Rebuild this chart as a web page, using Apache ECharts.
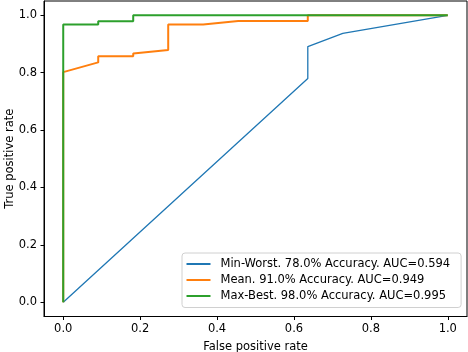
<!DOCTYPE html>
<html lang="en">

<head>
    <meta charset="UTF-8">
    <title>ROC</title>
    <style>
        html, body {
            margin: 0;
            padding: 0;
            background: #fff;
        }
        .box {
            width: 468px;
            height: 352px;
        }
    </style>
</head>

<body>
    <div class="box"></div>

    <script src="https://cdn.jsdelivr.net/npm/echarts@6/dist/echarts.min.js"></script>
    <script>
        let myChart = echarts.init(document.querySelector(".box"));

        // tick positions on both axes
        let tickValues = [0, 0.2, 0.4, 0.6, 0.8, 1.0];

        // legend names
        let seriesNames = [
            "Min-Worst. 78.0% Accuracy. AUC=0.594",
            "Mean. 91.0% Accuracy. AUC=0.949",
            "Max-Best. 98.0% Accuracy. AUC=0.995"
        ];

        // ROC curves: false positive rate / true positive rate
        let worstFpr = [0, 0.636, 0.636, 0.727, 1.0];
        let worstTpr = [0, 0.780, 0.891, 0.937, 1.0];

        let meanFpr = [0, 0, 0.091, 0.091, 0.182, 0.182, 0.273, 0.273, 0.364, 0.455, 0.636, 0.636, 1.0];
        let meanTpr = [0, 0.802, 0.836, 0.857, 0.857, 0.867, 0.879, 0.968, 0.968, 0.980, 0.980, 1.0, 1.0];

        let bestFpr = [0, 0, 0.091, 0.091, 0.182, 0.182, 1.0];
        let bestTpr = [0, 0.968, 0.968, 0.979, 0.979, 1.0, 1.0];

        function pairs(xs, ys) {
            return xs.map((x, i) => [x, ys[i]]);
        }

        let font = "DejaVu Sans";
        let fontSize = 11.5;

        function axis(name, gap) {
            return {
                type: "value",
                min: -0.05,
                max: 1.05,
                name: name,
                nameLocation: "middle",
                nameGap: gap,
                nameMoveOverlap: false,
                nameTextStyle: { fontFamily: font, fontSize: fontSize, color: "#000" },
                axisLine: { show: true, onZero: false, lineStyle: { color: "#000", width: 1 } },
                axisTick: { show: true, length: 3.5, customValues: tickValues, lineStyle: { color: "#000" } },
                axisLabel: {
                    customValues: tickValues,
                    margin: 7,
                    fontFamily: font,
                    fontSize: fontSize,
                    color: "#000",
                    formatter: v => v.toFixed(1)
                },
                splitLine: { show: false }
            };
        }

        let colors = ["#1f77b4", "#ff7f0e", "#2ca02c"];
        let widths = [1.3, 2, 2];
        let curves = [pairs(worstFpr, worstTpr), pairs(meanFpr, meanTpr), pairs(bestFpr, bestTpr)];

        option = {
            animation: false,
            color: colors,
            grid: {
                left: 44,
                right: 1,
                top: 1,
                bottom: 35.5,
                outerBoundsMode: "none",
                containLabel: false,
                show: true,
                borderColor: "#000",
                borderWidth: 1
            },
            xAxis: axis("False positive rate", 24.5),
            yAxis: axis("True positive rate", 27.5),
            legend: {
                orient: "vertical",
                left: 182,
                top: 253,
                padding: [5, 11, 5.5, 4.5],
                itemGap: 4,
                itemWidth: 24,
                itemHeight: 2,
                icon: "rect",
                backgroundColor: "#fff",
                borderColor: "#d0d0d0",
                borderWidth: 1,
                borderRadius: 3,
                textStyle: {
                    fontFamily: font,
                    fontSize: fontSize,
                    lineHeight: 12,
                    color: "#000",
                    padding: [0, 0, 0, 5]
                },
                data: seriesNames
            },
            series: seriesNames.map((name, i) => ({
                name: name,
                type: "line",
                data: curves[i],
                showSymbol: false,
                symbol: "none",
                z: 2 + i,
                lineStyle: { width: widths[i], color: colors[i] }
            }))
        };
        myChart.setOption(option);
    </script>
</body>

</html>
